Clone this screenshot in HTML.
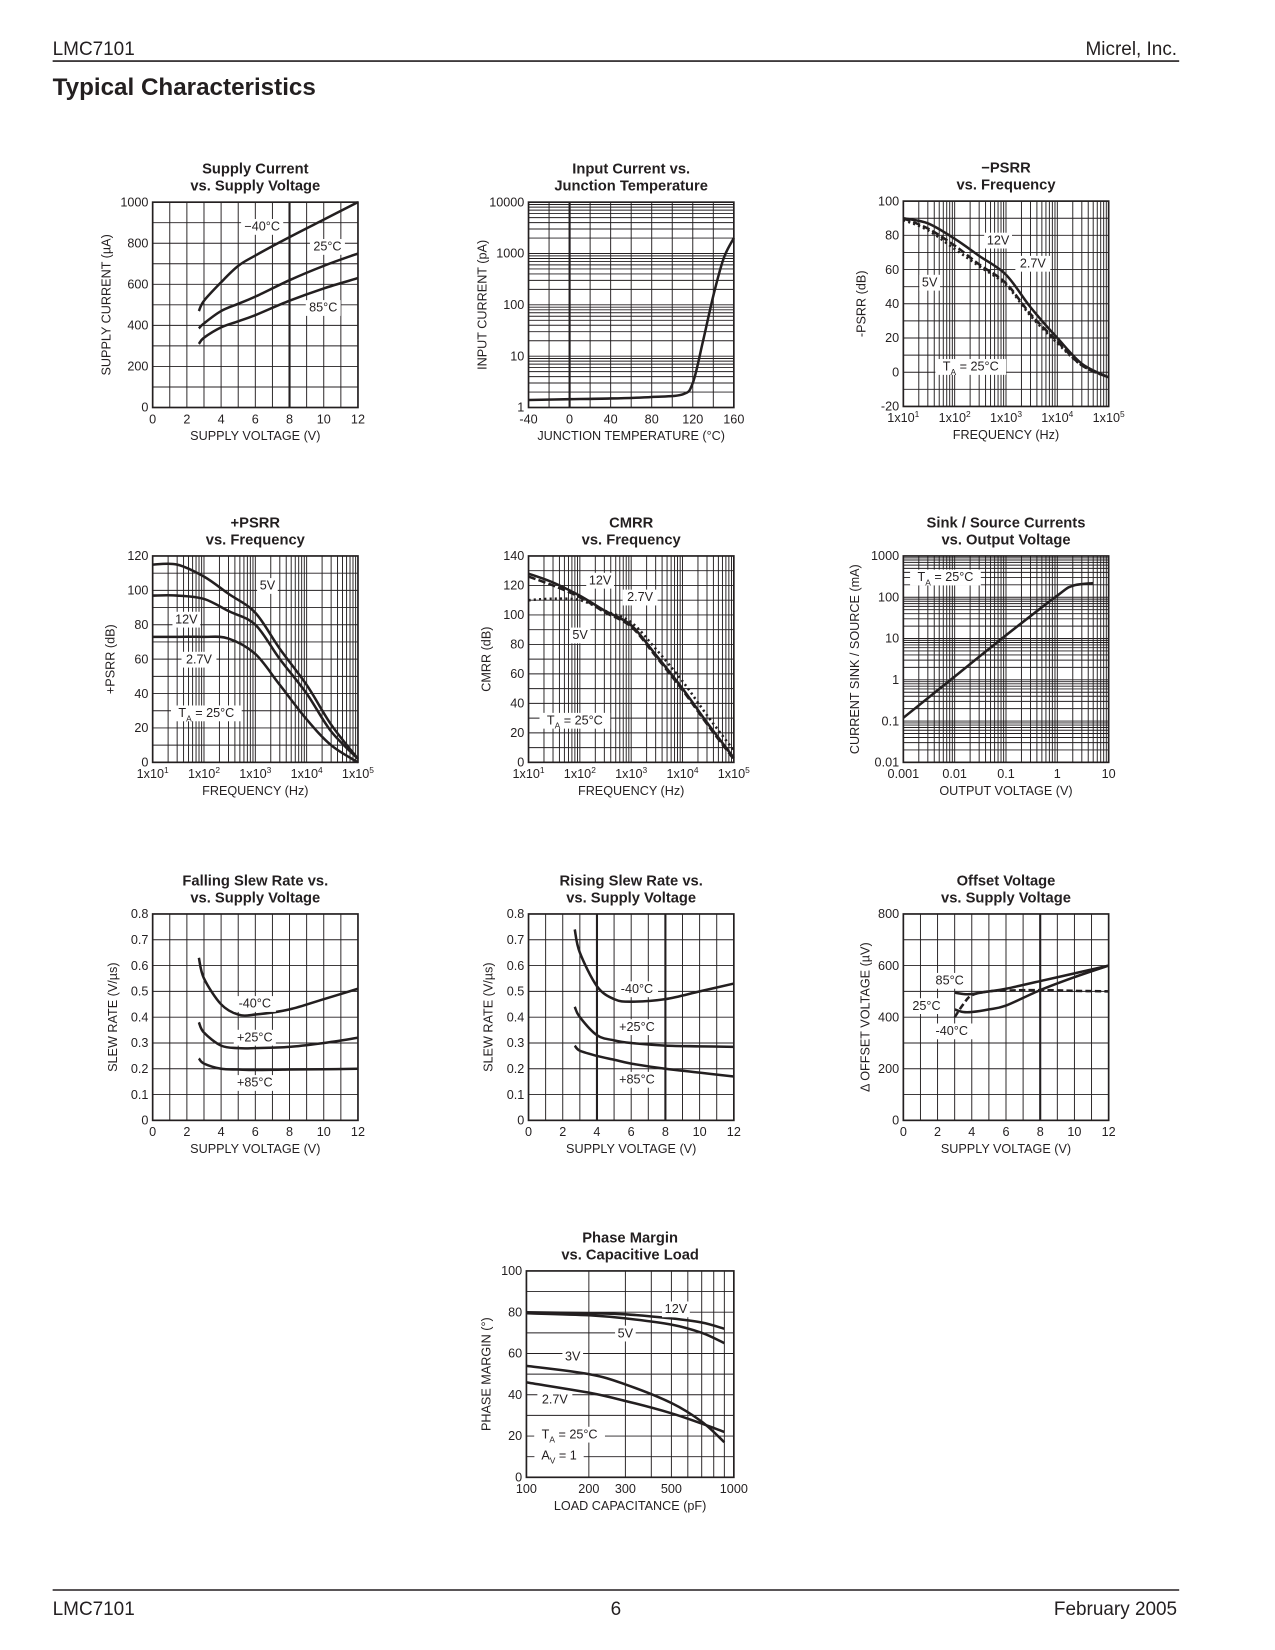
<!DOCTYPE html>
<html><head><meta charset="utf-8"><style>
html,body{margin:0;padding:0;background:#fff;}
svg{display:block;font-family:"Liberation Sans",sans-serif;}
</style></head><body>
<svg id="page" width="1275" height="1650" viewBox="0 0 1211 1567" preserveAspectRatio="none" xmlns="http://www.w3.org/2000/svg">
<text x="50" y="52" font-size="18" fill="#231f20">LMC7101</text>
<text x="1118" y="52" font-size="18" fill="#231f20" text-anchor="end">Micrel, Inc.</text>
<line x1="50" y1="58" x2="1120" y2="58" stroke="#231f20" stroke-width="1.5"/>
<text x="50" y="90" font-size="23" font-weight="bold" fill="#231f20">Typical Characteristics</text>
<line x1="50" y1="1510" x2="1120" y2="1510" stroke="#231f20" stroke-width="1.5"/>
<text x="50" y="1534" font-size="18" fill="#231f20">LMC7101</text>
<text x="585" y="1534" font-size="18" fill="#231f20" text-anchor="middle">6</text>
<text x="1118" y="1534" font-size="18" fill="#231f20" text-anchor="end">February 2005</text>
<g id="charts"></g>
</svg>
<script>
// ---- data ----
const supplyV1 = [2.7,3,4,5,6,8,10,12];
const supplyIm40 = [470,520,610,690,740,830,915,1000];
const supplyI25 = [385,410,470,505,540,620,690,750];
const supplyI85 = [310,340,390,420,450,520,580,630];

const tempJ = [-40,0,40,80,110,120,130,140,150,160];
const inputI = [1.4,1.45,1.5,1.6,1.8,3,20,150,800,2000];

const nFreq = [10,30,100,300,1000,3000,10000,30000,100000];
const nPsrr12 = [90,87,78,68,57,38,20,5,-3];
const nPsrr5 = [90,84,74,63,52,34,18,4,-3];
const nPsrr27 = [89,83,72,62,51,33,17,4,-3];

const pFreq = [10,30,100,300,1000,3000,10000,30000,100000];
const pPsrr5 = [115,115,108,98,87,66,45,22,2];
const pPsrr12 = [97,97,95,88,80,60,40,18,2];
const pPsrr27 = [73,73,73,72,63,45,25,10,0];

const cFreq = [10,30,100,300,1000,3000,10000,30000,100000];
const cmrr12 = [128,122,113,103,93,73,50,27,3];
const cmrr5 = [126,120,112,102,92,72,49,26,2];
const cmrr27 = [110,111,110,103,95,77,55,32,8];

const outV = [0.001,0.01,0.1,1,2,5];
const sinkI = [0.12,1.2,12,110,190,220];

const slewV = [2.7,3,4,5,6,8,10,12];
const fallM40 = [0.63,0.55,0.45,0.41,0.41,0.43,0.47,0.51];
const fall25 = [0.38,0.34,0.29,0.28,0.28,0.285,0.30,0.32];
const fall85 = [0.24,0.22,0.20,0.197,0.195,0.197,0.198,0.20];
const riseM40 = [0.74,0.65,0.52,0.47,0.46,0.47,0.50,0.53];
const rise25 = [0.44,0.40,0.33,0.31,0.30,0.29,0.287,0.285];
const rise85 = [0.29,0.27,0.25,0.235,0.22,0.20,0.185,0.17];

const offV = [3,3.5,4,5,6,8,10,12];
const off85 = [495,490,490,500,510,540,570,600];
const offM40 = [430,420,420,430,445,505,555,600];
const off25 = [400,450,485,500,503,505,502,500];

const capL = [100,200,300,500,700,900];
const pm12 = [80,79.5,79,77,75,72];
const pm5 = [79.5,78.5,77,74,70,65];
const pm3 = [54,50,45,36,27,17];
const pm27 = [46,41,37,31,26,22];

// ---- drawing ----
const NS='http://www.w3.org/2000/svg';
const root=document.getElementById('charts');
function el(tag,attrs,parent){const e=document.createElementNS(NS,tag);for(const k in attrs)e.setAttribute(k,attrs[k]);(parent||root).appendChild(e);return e;}
function scale(min,max,log,a,b){
  if(log){const l0=Math.log10(min),l1=Math.log10(max);return v=>a+(Math.log10(v)-l0)/(l1-l0)*(b-a);}
  return v=>a+(v-min)/(max-min)*(b-a);
}
function gridVals(min,max,log,step){
  const out=[];
  if(log){for(let d=Math.round(Math.log10(min));d<Math.round(Math.log10(max));d++){for(let m=1;m<10;m++)out.push(m*Math.pow(10,d));}out.push(max);}
  else{for(let v=min;v<=max+1e-9;v+=step)out.push(v);}
  return out;
}
function smooth(p){
  let d='M'+p[0][0].toFixed(1)+','+p[0][1].toFixed(1);
  for(let i=0;i<p.length-1;i++){
    const p0=p[i-1]||p[i],p1=p[i],p2=p[i+1],p3=p[i+2]||p2;
    const c1=[p1[0]+(p2[0]-p0[0])/6,p1[1]+(p2[1]-p0[1])/6];
    const c2=[p2[0]-(p3[0]-p1[0])/6,p2[1]-(p3[1]-p1[1])/6];
    d+=' C'+c1.map(v=>v.toFixed(1))+' '+c2.map(v=>v.toFixed(1))+' '+p2.map(v=>v.toFixed(1));
  }
  return d;
}
function addText(g,x,y,str,opts){
  const t=el('text',Object.assign({x:x,y:y,'font-size':12,fill:'#231f20'},opts||{}),g);
  const m=/^(.*)\^(.*)$/.exec(str);
  if(m){t.appendChild(document.createTextNode(m[1]));const s=el('tspan',{dy:-5,'font-size':8},t);s.textContent=m[2];}
  else{
    const sub=/^(.*)_(A|V)(.*)$/.exec(str);
    if(sub){t.appendChild(document.createTextNode(sub[1]));const s=el('tspan',{dy:4,'font-size':8},t);s.textContent=sub[2];const r=el('tspan',{dy:-4},t);r.textContent=sub[3];}
    else t.textContent=str;
  }
  return t;
}
function chart(c){
  const g=el('g',{});
  
  
  const x0=c.x,y0=c.y,x1=c.x+c.w,y1=c.y+c.h;
  const sx=scale(c.xmin,c.xmax,c.xlog,x0,x1);
  const sy=scale(c.ymin,c.ymax,c.ylog,y1,y0);
  const gg=el('g',{stroke:'#231f20'},g);
  
  
  gridVals(c.xmin,c.xmax,c.xlog,c.xstep).forEach(v=>{
    const X=sx(v);const thick=(c.xthick||[]).includes(v);
    el('line',{x1:X,y1:y0,x2:X,y2:y1,'stroke-width':thick?2:0.9},gg);
  });
  gridVals(c.ymin,c.ymax,c.ylog,c.ystep).forEach(v=>{
    const Y=sy(v);const thick=(c.ythick||[]).includes(v);
    el('line',{x1:x0,y1:Y,x2:x1,y2:Y,'stroke-width':thick?2:0.9},gg);
  });
  const fr=el('rect',{x:x0,y:y0,width:c.w,height:c.h,fill:'none',stroke:'#231f20','stroke-width':1.6},g);
  
  
  c.title.forEach((t,i)=>{
    const tt=addText(g,x0+c.w/2,y0-27+i*16,t,{'font-size':14,'font-weight':'bold','text-anchor':'middle'});
    
    
  });
  c.xTicks.forEach((v,i)=>{
    const t=addText(g,sx(v),y1+15,c.xLabels[i],{'text-anchor':'middle'});
    
    
  });
  c.yTicks.forEach((v,i)=>{
    const t=addText(g,x0-4,sy(v)+4,c.yLabels[i],{'text-anchor':'end'});
    
    
  });
  const xt=addText(g,x0+c.w/2,y1+31,c.xTitle,{'text-anchor':'middle'});
  
  
  const yx=x0-(c.yTitleOff||40),yy=y0+c.h/2;
  const yt=addText(g,yx,yy,c.yTitle,{'text-anchor':'middle',transform:'rotate(-90 '+yx+' '+yy+')'});
  
  
  c.series.forEach(s=>{
    const pts=s.xs.map((v,i)=>[sx(v),sy(s.ys[i])]);
    const p=el('path',{d:smooth(pts),fill:'none',stroke:'#231f20','stroke-width':2.4,'stroke-dasharray':s.dash||'none'},g);
    
    
  });
  (c.labels||[]).forEach(l=>{
    const w=l.t.replace(/[_^]/g,'').length*6.8+6;
    const r=el('rect',{x:l.x-w/2,y:l.y-11,width:w,height:15,fill:'#fff'},g);
    
    
    const t=addText(g,l.x,l.y,l.t,{'text-anchor':'middle'});
    
    
  });
  return g;
}
const freqLabels=['1x10^1','1x10^2','1x10^3','1x10^4','1x10^5'];
const freqTicks=[10,100,1000,10000,100000];

chart({name:'supply-current-chart',x:145,y:192,w:195,h:195,xmin:0,xmax:12,xstep:1,ymin:0,ymax:1000,ystep:100,xthick:[8],
 title:['Supply Current','vs. Supply Voltage'],xTicks:[0,2,4,6,8,10,12],xLabels:['0','2','4','6','8','10','12'],
 yTicks:[0,200,400,600,800,1000],yLabels:['0','200','400','600','800','1000'],xTitle:'SUPPLY VOLTAGE (V)',yTitle:'SUPPLY CURRENT (µA)',
 series:[{xs:supplyV1,ys:supplyIm40,name:'series-minus40c'},{xs:supplyV1,ys:supplyI25,name:'series-25c'},{xs:supplyV1,ys:supplyI85,name:'series-85c'}],
 labels:[{x:249,y:219,t:'−40°C'},{x:311,y:238,t:'25°C'},{x:307,y:296,t:'85°C'}]});

chart({name:'input-current-chart',x:502,y:192,w:195,h:195,xmin:-40,xmax:160,xstep:20,ymin:1,ymax:10000,ylog:true,xthick:[0],
 title:['Input Current vs.','Junction Temperature'],xTicks:[-40,0,40,80,120,160],xLabels:['-40','0','40','80','120','160'],
 yTicks:[1,10,100,1000,10000],yLabels:['1','10','100','1000','10000'],xTitle:'JUNCTION TEMPERATURE (°C)',yTitle:'INPUT CURRENT (pA)',
 series:[{xs:tempJ,ys:inputI,name:'series-input-current'}]});

chart({name:'minus-psrr-chart',x:858,y:191,w:195,h:195,xmin:10,xmax:100000,xlog:true,ymin:-20,ymax:100,ystep:10,
 title:['−PSRR','vs. Frequency'],xTicks:freqTicks,xLabels:freqLabels,
 yTicks:[-20,0,20,40,60,80,100],yLabels:['-20','0','20','40','60','80','100'],xTitle:'FREQUENCY (Hz)',yTitle:'-PSRR (dB)',yTitleOff:36,
 series:[{xs:nFreq,ys:nPsrr12,name:'series-12v'},{xs:nFreq,ys:nPsrr5,dash:'7,3',name:'series-5v'},{xs:nFreq,ys:nPsrr27,dash:'2,3',name:'series-2-7v'}],
 labels:[{x:948,y:232,t:'12V'},{x:981,y:254,t:'2.7V'},{x:883,y:272,t:'5V'},{x:922,y:352,t:'T_A = 25°C'}]});

chart({name:'plus-psrr-chart',x:145,y:528,w:195,h:196,xmin:10,xmax:100000,xlog:true,ymin:0,ymax:120,ystep:10,
 title:['+PSRR','vs. Frequency'],xTicks:freqTicks,xLabels:freqLabels,
 yTicks:[0,20,40,60,80,100,120],yLabels:['0','20','40','60','80','100','120'],xTitle:'FREQUENCY (Hz)',yTitle:'+PSRR (dB)',yTitleOff:36,
 series:[{xs:pFreq,ys:pPsrr5,name:'series-5v'},{xs:pFreq,ys:pPsrr12,name:'series-12v'},{xs:pFreq,ys:pPsrr27,name:'series-2-7v'}],
 labels:[{x:254,y:560,t:'5V'},{x:177,y:592,t:'12V'},{x:189,y:630,t:'2.7V'},{x:196,y:681,t:'T_A = 25°C'}]});

chart({name:'cmrr-chart',x:502,y:528,w:195,h:196,xmin:10,xmax:100000,xlog:true,ymin:0,ymax:140,ystep:10,
 title:['CMRR','vs. Frequency'],xTicks:freqTicks,xLabels:freqLabels,
 yTicks:[0,20,40,60,80,100,120,140],yLabels:['0','20','40','60','80','100','120','140'],xTitle:'FREQUENCY (Hz)',yTitle:'CMRR (dB)',yTitleOff:36,
 series:[{xs:cFreq,ys:cmrr12,name:'series-12v'},{xs:cFreq,ys:cmrr5,dash:'7,3',name:'series-5v'},{xs:cFreq,ys:cmrr27,dash:'2,3',name:'series-2-7v'}],
 labels:[{x:570,y:555,t:'12V'},{x:608,y:571,t:'2.7V'},{x:551,y:607,t:'5V'},{x:546,y:688,t:'T_A = 25°C'}]});

chart({name:'sink-source-chart',x:858,y:528,w:195,h:196,xmin:0.001,xmax:10,xlog:true,ymin:0.01,ymax:1000,ylog:true,
 title:['Sink / Source Currents','vs. Output Voltage'],xTicks:[0.001,0.01,0.1,1,10],xLabels:['0.001','0.01','0.1','1','10'],
 yTicks:[0.01,0.1,1,10,100,1000],yLabels:['0.01','0.1','1','10','100','1000'],xTitle:'OUTPUT VOLTAGE (V)',yTitle:'CURRENT SINK / SOURCE (mA)',yTitleOff:42,
 series:[{xs:outV,ys:sinkI,name:'series-sink-source'}],
 labels:[{x:898,y:552,t:'T_A = 25°C'}]});

chart({name:'falling-slew-chart',x:145,y:868,w:195,h:196,xmin:0,xmax:12,xstep:1,ymin:0,ymax:0.8,ystep:0.1,
 title:['Falling Slew Rate vs.','vs. Supply Voltage'],xTicks:[0,2,4,6,8,10,12],xLabels:['0','2','4','6','8','10','12'],
 yTicks:[0,0.1,0.2,0.3,0.4,0.5,0.6,0.7,0.8],yLabels:['0','0.1','0.2','0.3','0.4','0.5','0.6','0.7','0.8'],xTitle:'SUPPLY VOLTAGE (V)',yTitle:'SLEW RATE (V/µs)',yTitleOff:34,
 series:[{xs:slewV,ys:fallM40,name:'series-minus40c'},{xs:slewV,ys:fall25,name:'series-25c'},{xs:slewV,ys:fall85,name:'series-85c'}],
 labels:[{x:242,y:957,t:'-40°C'},{x:242,y:989,t:'+25°C'},{x:242,y:1032,t:'+85°C'}]});

chart({name:'rising-slew-chart',x:502,y:868,w:195,h:196,xmin:0,xmax:12,xstep:1,ymin:0,ymax:0.8,ystep:0.1,xthick:[4,8],
 title:['Rising Slew Rate vs.','vs. Supply Voltage'],xTicks:[0,2,4,6,8,10,12],xLabels:['0','2','4','6','8','10','12'],
 yTicks:[0,0.1,0.2,0.3,0.4,0.5,0.6,0.7,0.8],yLabels:['0','0.1','0.2','0.3','0.4','0.5','0.6','0.7','0.8'],xTitle:'SUPPLY VOLTAGE (V)',yTitle:'SLEW RATE (V/µs)',yTitleOff:34,
 series:[{xs:slewV,ys:riseM40,name:'series-minus40c'},{xs:slewV,ys:rise25,name:'series-25c'},{xs:slewV,ys:rise85,name:'series-85c'}],
 labels:[{x:605,y:943,t:'-40°C'},{x:605,y:979,t:'+25°C'},{x:605,y:1029,t:'+85°C'}]});

chart({name:'offset-voltage-chart',x:858,y:868,w:195,h:196,xmin:0,xmax:12,xstep:1,ymin:0,ymax:800,ystep:100,xthick:[8],
 title:['Offset Voltage','vs. Supply Voltage'],xTicks:[0,2,4,6,8,10,12],xLabels:['0','2','4','6','8','10','12'],
 yTicks:[0,200,400,600,800],yLabels:['0','200','400','600','800'],xTitle:'SUPPLY VOLTAGE (V)',yTitle:'Δ OFFSET VOLTAGE (µV)',yTitleOff:32,
 series:[{xs:offV,ys:off85,name:'series-85c'},{xs:offV,ys:offM40,name:'series-minus40c'},{xs:offV,ys:off25,dash:'6,3',name:'series-25c'}],
 labels:[{x:902,y:935,t:'85°C'},{x:880,y:959,t:'25°C'},{x:904,y:983,t:'-40°C'}]});

chart({name:'phase-margin-chart',x:500,y:1207,w:197,h:196,xmin:100,xmax:1000,xlog:true,ymin:0,ymax:100,ystep:10,
 title:['Phase Margin','vs. Capacitive Load'],xTicks:[100,200,300,500,1000],xLabels:['100','200','300','500','1000'],
 yTicks:[0,20,40,60,80,100],yLabels:['0','20','40','60','80','100'],xTitle:'LOAD CAPACITANCE (pF)',yTitle:'PHASE MARGIN (°)',yTitleOff:34,
 series:[{xs:capL,ys:pm12,name:'series-12v'},{xs:capL,ys:pm5,name:'series-5v'},{xs:capL,ys:pm3,name:'series-3v'},{xs:capL,ys:pm27,name:'series-2-7v'}],
 labels:[{x:642,y:1247,t:'12V'},{x:594,y:1270,t:'5V'},{x:544,y:1292,t:'3V'},{x:527,y:1333,t:'2.7V'},{x:541,y:1366,t:'T_A = 25°C'},{x:531,y:1386,t:'A_V = 1'}]});
</script>
</body></html>
